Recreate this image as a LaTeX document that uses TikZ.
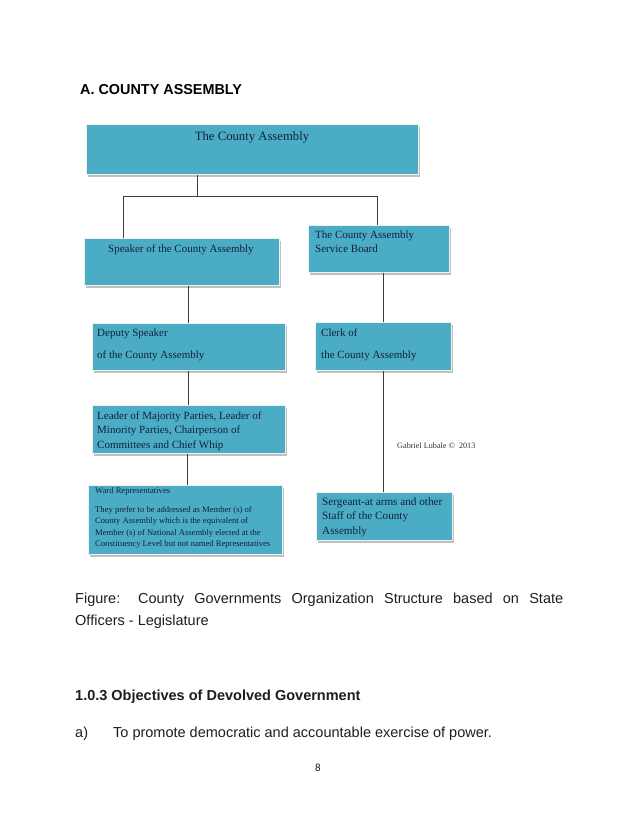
\documentclass[tikz,border=0pt]{standalone}
\usepackage{fontspec}
\setmainfont{Liberation Serif}
\newfontfamily\sansf{Liberation Sans}
\newfontfamily\pagenumf{Carlito}
\usetikzlibrary{shadows}
\definecolor{boxfill}{HTML}{4BACC6}
\definecolor{boxtext}{HTML}{13203A}
\definecolor{linecol}{HTML}{3C3C3C}
\definecolor{pagetext}{HTML}{1E1E1E}
\newcommand\boxlines[2]{\parbox[t]{#1}{\raggedright #2}}
\begin{document}
\begin{tikzpicture}[x=1pt,y=-1pt,
  box/.style={rectangle, fill=boxfill, draw=white!88!gray, line width=0.9pt,
    inner sep=0pt, anchor=north west,
    drop shadow={shadow xshift=1.2pt, shadow yshift=-2.4pt, fill=gray!65, opacity=0.75}},
  bt/.style={anchor=base west, inner sep=0pt, text=boxtext},
  conn/.style={draw=linecol, line width=1pt},
  pt/.style={anchor=base west, inner sep=0pt, text=pagetext, font=\sansf\fontsize{14.5}{22}\selectfont}
]
\fill[white] (0,0) rectangle (638,826);
\useasboundingbox (0,0) rectangle (638,826);

% title
\node[anchor=base west, inner sep=0pt, font=\sansf\bfseries\fontsize{14.4}{17}\selectfont] (title) at (80,95) {A. COUNTY ASSEMBLY};

% boxes
\node[box, minimum width=332pt, minimum height=50pt] (top) at (86,124) {};
\node[box, minimum width=195pt, minimum height=47pt] (speaker) at (84,238) {};
\node[box, minimum width=141pt, minimum height=47pt] (board) at (308,225) {};
\node[box, minimum width=193pt, minimum height=47pt] (deputy) at (92,323) {};
\node[box, minimum width=136pt, minimum height=48pt] (clerk) at (315,322) {};
\node[box, minimum width=193pt, minimum height=48pt] (leader) at (92,405) {};
\node[box, minimum width=194pt, minimum height=69pt] (ward) at (88,485) {};
\node[box, minimum width=136pt, minimum height=48pt] (sergeant) at (316,492) {};

% box texts
\node[bt, anchor=base, font=\fontsize{12.7}{15}\selectfont] (ttop) at (252,141) {The County Assembly};
\node[bt, font=\fontsize{11}{14}\selectfont] (tspeaker) at (108,252) {Speaker of the County Assembly};
\node[bt, font=\fontsize{11}{14}\selectfont] (tboard) at (315,238) {\boxlines{130pt}{The County Assembly\\Service Board}};
\node[bt, font=\fontsize{11}{22.5}\selectfont] (tdeputy) at (97,336) {\boxlines{180pt}{Deputy Speaker\\of the County Assembly}};
\node[bt, font=\fontsize{11}{22.5}\selectfont] (tclerk) at (321,336) {\boxlines{125pt}{Clerk of\\the County Assembly}};
\node[bt, font=\fontsize{11}{14.5}\selectfont] (tleader) at (97,419) {\boxlines{185pt}{Leader of Majority Parties, Leader of\\Minority Parties, Chairperson of\\Committees and Chief Whip}};
\node[bt, font=\fontsize{8.6}{9}\selectfont] (twardh) at (95,493) {Ward Representatives};
\node[bt, font=\fontsize{8.6}{11.6}\selectfont] (tward) at (95,512) {\boxlines{190pt}{They prefer to be addressed as Member (s) of\\County Assembly which is the equivalent of\\Member (s) of National Assembly elected at the\\Constituency Level but not named Representatives}};
\node[bt, font=\fontsize{11.2}{14.5}\selectfont] (tsergeant) at (322,505) {\boxlines{128pt}{Sergeant-at arms and other\\Staff of the County\\Assembly}};
\node[bt, text=black!80, font=\fontsize{8.2}{9}\selectfont] (credit) at (397,448) {Gabriel Lubale \textcopyright\ \ 2013};

% connectors
\coordinate (j) at (197,197);
\coordinate (cL) at (123,197);
\coordinate (cR) at (377,197);
\coordinate (xl) at (188,0);
\coordinate (xr) at (383,0);
\draw[conn] (top.south -| j) -- (j);
\draw[conn] (cL |- speaker.north) -- (cL) -- (cR) -- (cR |- board.north);
\draw[conn] (speaker.south -| xl) -- (deputy.north -| xl);
\draw[conn] (deputy.south -| xl) -- (leader.north -| xl);
\draw[conn] ([xshift=-1pt]leader.south -| xl) -- ([xshift=-1pt]ward.north -| xl);
\draw[conn] (board.south -| xr) -- (clerk.north -| xr);
\draw[conn] (clerk.south -| xr) -- (sergeant.north -| xr);

% page text
\node[pt] (cap1) at (75,603) {\makebox[488pt][s]{Figure: County Governments Organization Structure based on State}};
\node[pt] (cap2) at (75,625) {Officers - Legislature};
\node[pt, font=\sansf\bfseries\fontsize{14.5}{22}\selectfont] (head) at (75,700) {1.0.3 Objectives of Devolved Government};
\node[pt] (itema) at (75,737) {a)};
\node[pt] (itemtext) at (113,737) {To promote democratic and accountable exercise of power.};
\node[anchor=base, inner sep=0pt, text=pagetext, font=\pagenumf\fontsize{11}{13}\selectfont] (pnum) at (318,771) {8};
\end{tikzpicture}
\end{document}
